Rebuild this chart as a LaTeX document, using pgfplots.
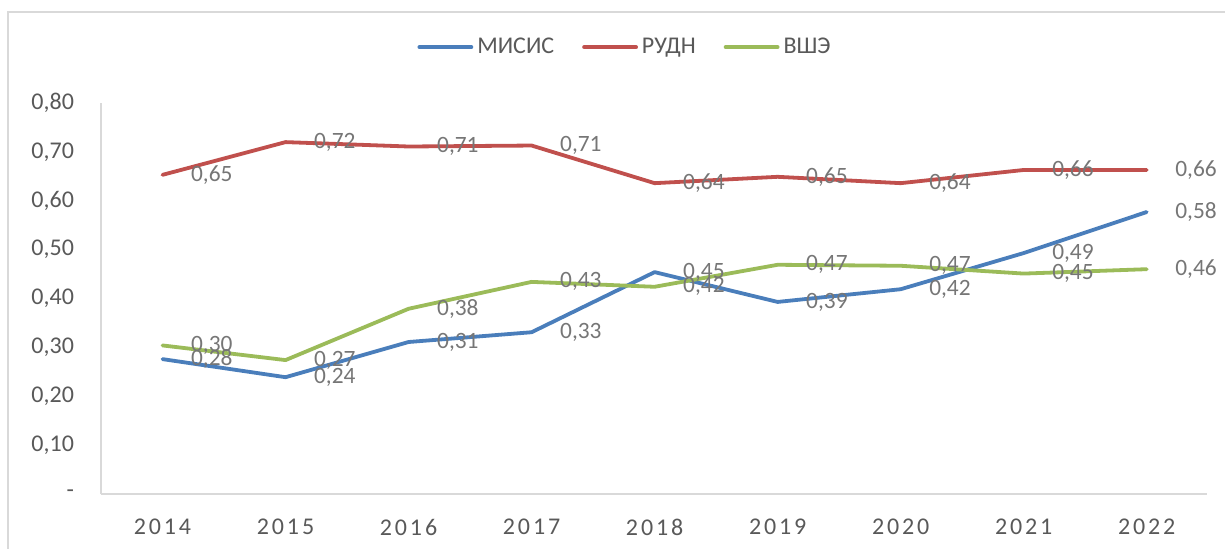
\documentclass[border=0pt]{standalone}
\usepackage{fontspec}
\setmainfont{Carlito}
\newfontfamily\spaced[LetterSpace=12]{Carlito}
\usepackage{pgfplots}
\pgfplotsset{compat=1.18}
\definecolor{misis}{RGB}{74,126,187}
\definecolor{rudn}{RGB}{192,80,77}
\definecolor{hse}{RGB}{155,187,89}
\definecolor{axisgray}{RGB}{217,217,217}
\definecolor{tickgray}{RGB}{89,89,89}
\definecolor{labelgray}{RGB}{118,118,118}

\begin{document}
\begin{tikzpicture}
\useasboundingbox (0,0) rectangle (612.5pt,274pt);
% chart frame (cut at right and bottom)
\draw[axisgray, line width=0.7pt] (4pt,-2pt) -- (4pt,268pt) -- (614pt,268pt);
\begin{axis}[
  at={(50.5pt,27pt)}, anchor=south west,
  scale only axis, width=553pt, height=195.5pt,
  xmin=2013.5, xmax=2022.49, ymin=0, ymax=0.8,
  axis lines=left,
  axis line style={-, axisgray, line width=0.7pt},
  major tick length=0pt, tick style={draw=none},
  clip=false,
  xtick={2014,2015,2016,2017,2018,2019,2020,2021,2022},
  xticklabels={2014,2015,2016,2017,2018,2019,2020,2021,2022},
  xticklabel style={font=\spaced\fontsize{12}{14}\selectfont, text=tickgray, yshift=-9pt},
  ytick={0,0.1,0.2,0.3,0.4,0.5,0.6,0.7,0.8},
  yticklabels={{-\hspace{5.5pt}},{0,10},{0,20},{0,30},{0,40},{0,50},{0,60},{0,70},{0,80}},
  yticklabel style={font=\fontsize{12}{14}\selectfont, text=tickgray, xshift=-10pt},
  every axis plot/.append style={line width=1.9pt, line join=round, line cap=round},
  nodes near coords,
  nodes near coords style={anchor=west, xshift=10pt, font=\fontsize{11.7}{13}\selectfont, text=labelgray},
  /pgf/number format/.cd, use comma, fixed, fixed zerofill, precision=2, assume math mode=true,
  /pgfplots/.cd,
  legend columns=3,
  legend style={draw=none, fill=none, at={(0.4747,1.143)}, anchor=center,
    font=\fontsize{12}{14}\selectfont, text=tickgray,
    /tikz/every even column/.append style={column sep=12pt}},
  legend image code/.code={\draw[#1, line width=1.9pt, line cap=round] (0pt,0pt) -- (26pt,0pt);},
]
\addplot[color=misis] coordinates {
  (2014,0.276) (2015,0.239) (2016,0.311) (2017,0.331) (2018,0.454)
  (2019,0.393) (2020,0.419) (2021,0.493) (2022,0.577)};
\addlegendentry{МИСИС}
\addplot[color=rudn] coordinates {
  (2014,0.653) (2015,0.720) (2016,0.711) (2017,0.713) (2018,0.636)
  (2019,0.649) (2020,0.636) (2021,0.663) (2022,0.663)};
\addlegendentry{РУДН}
\addplot[color=hse] coordinates {
  (2014,0.304) (2015,0.274) (2016,0.379) (2017,0.434) (2018,0.424)
  (2019,0.469) (2020,0.467) (2021,0.451) (2022,0.460)};
\addlegendentry{ВШЭ}
\end{axis}
\end{tikzpicture}
\end{document}
